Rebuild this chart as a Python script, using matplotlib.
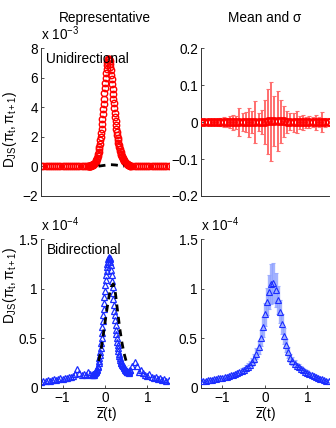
import numpy as np
import matplotlib
matplotlib.use("Agg")
import matplotlib.pyplot as plt

plt.rcParams['font.family'] = ['Liberation Sans', 'DejaVu Sans']
plt.rcParams['mathtext.fontset'] = 'custom'
plt.rcParams['mathtext.rm'] = 'Liberation Sans'
plt.rcParams['mathtext.it'] = 'Liberation Sans:italic'
plt.rcParams['mathtext.bf'] = 'Liberation Sans:bold'
FS = 9.8

# ---------------- data ----------------
# Representative, unidirectional (units 1e-3)
uni_z_left = np.round(np.arange(-1.5, -0.41, 0.05), 3)
uni_v_left = [0.0, 0.01, 0.0, 0.01, 0.0, 0.0, 0.01, 0.0, 0.01, 0.0, 0.01, 0.0,
              0.01, 0.0, 0.01, 0.01, 0.0, 0.01, 0.01, 0.01, 0.02, 0.02]
uni_z_mid = np.round(np.arange(-0.40, 0.605, 0.01), 3)
uni_v_mid = [0.02, 0.025, 0.03, 0.035, 0.04, 0.045, 0.05, 0.06, 0.07, 0.08,
             0.09, 0.105, 0.12, 0.14, 0.16, 0.19, 0.22, 0.26, 0.30, 0.36,
             0.42, 0.5, 0.6, 0.72, 0.85, 1.0, 1.15, 1.35, 1.55, 1.77,
             2.0, 2.27, 2.55, 2.87, 3.2, 3.55, 3.9, 4.25, 4.6, 4.95,
             5.3, 5.65, 6.0, 6.3, 6.6, 6.85, 7.05, 7.2, 7.3, 7.3,
             7.25, 7.12, 6.95, 6.75, 6.5, 6.2, 5.9, 5.58, 5.25, 4.92,
             4.6, 4.27, 3.95, 3.65, 3.35, 3.07, 2.8, 2.57, 2.35, 2.15,
             1.95, 1.77, 1.6, 1.45, 1.3, 1.17, 1.05, 0.95, 0.85, 0.76,
             0.68, 0.61, 0.54, 0.48, 0.43, 0.38, 0.34, 0.30, 0.27, 0.24,
             0.21, 0.18, 0.16, 0.14, 0.12, 0.105, 0.09, 0.08, 0.07, 0.06,
             0.05]
uni_z_right = np.round(np.arange(0.65, 1.501, 0.05), 3)
uni_v_right = [0.04, 0.03, 0.02, 0.02, 0.01, 0.01, 0.01, 0.0, 0.01, 0.0, 0.01,
               0.0, 0.0, 0.01, 0.0, 0.01, 0.0, 0.0]

uni_theory_z = np.round(np.arange(-0.15, 0.455, 0.05), 3)
uni_theory_v = [0.02, 0.04, 0.06, 0.08, 0.10, 0.12, 0.12, 0.11, 0.10, 0.08,
                0.06, 0.04, 0.02]

# Mean and sigma, unidirectional
uni_ms_z = np.round(np.arange(-1.5, 1.501, 0.075), 3)
uni_mean = [0.0, 0.0, 0.0, 0.0, 0.0, 0.0, 0.0, 0.0, 0.0, 0.0, 0.0, 0.0, 0.0,
            0.0, 0.0, 0.0, 0.0, 0.0, 0.0, 0.0, 0.001, 0.002, 0.003, 0.003,
            0.003, 0.002, 0.002, 0.001, 0.001, 0.0, 0.0, 0.0, 0.0, 0.0, 0.0,
            0.0, 0.0, 0.0, 0.0, 0.0, 0.0]
uni_sigma = [0.006, 0.005, 0.007, 0.006, 0.008, 0.007, 0.010, 0.013, 0.012,
             0.016, 0.020, 0.018, 0.037, 0.024, 0.028, 0.039, 0.030, 0.057,
             0.025, 0.032, 0.060, 0.088, 0.107, 0.068, 0.082, 0.059, 0.042,
             0.030, 0.023, 0.026, 0.030, 0.018, 0.020, 0.015, 0.017, 0.014,
             0.020, 0.013, 0.028, 0.012, 0.010]

# Representative, bidirectional (units 1e-4)
bi_z_left = np.round(np.arange(-1.5, -0.34, 0.05), 3)
bi_v_left = [0.06, 0.07, 0.065, 0.075, 0.07, 0.08, 0.085, 0.08, 0.09, 0.095,
             0.09, 0.10, 0.10, 0.11, 0.105, 0.12, 0.14, 0.19, 0.15, 0.13, 0.14,
             0.13, 0.16, 0.14]
bi_z_mid = np.round(np.arange(-0.30, 0.605, 0.01), 3)
bi_v_mid = [0.13, 0.14, 0.14, 0.13, 0.13, 0.14, 0.15, 0.155, 0.16, 0.165,
            0.17, 0.18, 0.19, 0.205, 0.22, 0.245, 0.27, 0.30, 0.33, 0.365,
            0.40, 0.45, 0.50, 0.555, 0.61, 0.67, 0.73, 0.795, 0.86, 0.92,
            0.98, 1.035, 1.09, 1.135, 1.18, 1.215, 1.25, 1.275, 1.30, 1.315,
            1.32, 1.315, 1.30, 1.27, 1.24, 1.19, 1.14, 1.08, 1.02, 0.96,
            0.90, 0.84, 0.78, 0.73, 0.68, 0.63, 0.58, 0.54, 0.50, 0.465,
            0.43, 0.40, 0.37, 0.345, 0.32, 0.30, 0.28, 0.265, 0.25, 0.245,
            0.24, 0.23, 0.22, 0.215, 0.21, 0.205, 0.20, 0.19, 0.18, 0.175,
            0.17, 0.165, 0.16, 0.16, 0.16, 0.155, 0.15, 0.16, 0.17, 0.175,
            0.18]
bi_z_right = np.round(np.arange(0.65, 1.501, 0.05), 3)
bi_v_right = [0.22, 0.26, 0.22, 0.16, 0.18, 0.15, 0.13, 0.12, 0.14, 0.11, 0.10,
              0.11, 0.09, 0.10, 0.08, 0.09, 0.07, 0.08]

bi_theory_z = np.round(np.arange(-0.15, 0.555, 0.05), 3)
bi_theory_v = [0.27, 0.36, 0.50, 0.65, 0.80, 0.93, 1.02, 1.05, 0.95, 0.77,
               0.60, 0.46, 0.35, 0.27, 0.22]

# Mean and sigma, bidirectional (units 1e-4)
bi_ms_z = np.round(np.arange(-1.5, 1.501, 0.05), 3)
bi_mean = [0.065, 0.068, 0.072, 0.075, 0.078, 0.082, 0.086, 0.09, 0.094, 0.098,
           0.103, 0.108, 0.113, 0.118, 0.124, 0.131, 0.14, 0.148, 0.158, 0.17,
           0.183, 0.198, 0.214, 0.234, 0.26, 0.295, 0.345, 0.41, 0.50, 0.61,
           0.74, 0.87, 0.97, 1.05, 1.06, 0.99, 0.89, 0.77, 0.64, 0.52, 0.43,
           0.36, 0.30, 0.27, 0.24, 0.22, 0.205, 0.19, 0.175, 0.163, 0.152,
           0.14, 0.13, 0.12, 0.11, 0.10, 0.092, 0.085, 0.078, 0.072, 0.068]
bi_sigma = [0.010, 0.010, 0.011, 0.011, 0.012, 0.012, 0.013, 0.013, 0.014,
            0.014, 0.015, 0.016, 0.017, 0.018, 0.019, 0.020, 0.021, 0.022,
            0.023, 0.025, 0.027, 0.030, 0.033, 0.037, 0.041, 0.046, 0.055,
            0.065, 0.080, 0.100, 0.120, 0.140, 0.170, 0.200, 0.200, 0.170,
            0.140, 0.120, 0.100, 0.080, 0.065, 0.055, 0.045, 0.040, 0.035,
            0.032, 0.030, 0.028, 0.026, 0.024, 0.022, 0.020, 0.019, 0.018,
            0.016, 0.015, 0.014, 0.013, 0.012, 0.012, 0.011]

x_ticks = [-1, 0, 1]
RED = '#ff0000'
BLUE = '#1a2cff'

# ---------------- figure ----------------
fig = plt.figure(figsize=(3.36, 4.28), dpi=100)
W, H = 336.0, 428.0


def pos(l, t, r, b):
    return [l / W, 1 - b / H, (r - l) / W, (b - t) / H]


ax_tl = fig.add_axes(pos(41.3, 48.3, 168.5, 196))
ax_tr = fig.add_axes(pos(201.3, 48.3, 328.5, 196))
ax_bl = fig.add_axes(pos(41.3, 239.3, 168.5, 387.7))
ax_br = fig.add_axes(pos(201.3, 239.3, 328.5, 387.7))

for ax in (ax_tl, ax_tr, ax_bl, ax_br):
    ax.spines['top'].set_visible(False)
    ax.spines['right'].set_visible(False)
    for s in ('left', 'bottom'):
        ax.spines[s].set_linewidth(0.7)
        ax.spines[s].set_color('#333333')
    ax.tick_params(direction='in', length=2.5, width=0.6, labelsize=FS,
                   pad=2.5, colors='#333333', labelcolor='black')
    ax.set_xlim(-1.5, 1.5)
    ax.set_xticks(x_ticks)

for ax in (ax_tl, ax_tr):
    ax.tick_params(axis='x', length=0, labelbottom=False)
for ax in (ax_bl, ax_br):
    ax.set_xticklabels(['\u22121', '0', '1'])

# top-left
uni_z = np.concatenate([uni_z_left, uni_z_mid, uni_z_right])
uni_v = np.concatenate([uni_v_left, uni_v_mid, uni_v_right])
ax_tl.plot(uni_z, uni_v, 'o', mfc='none', mec=RED, ms=4.6, mew=1.0, zorder=2)
ax_tl.plot(uni_theory_z, uni_theory_v, '--', color='black', lw=2.0,
           dashes=(2.5, 2.0), zorder=3)
ax_tl.set_ylim(-2, 8)
ax_tl.set_yticks([-2, 0, 2, 4, 6, 8])
ax_tl.text(0.04, 0.93, 'Unidirectional', transform=ax_tl.transAxes,
           fontsize=FS, ha='left', va='center')
ax_tl.text(0.0, 1.035, r'x 10$^{\mathrm{-3}}$', transform=ax_tl.transAxes,
           fontsize=FS, ha='left', va='bottom')

# top-right
eb1 = ax_tr.errorbar(uni_ms_z, uni_mean, yerr=uni_sigma, fmt='none',
                     ecolor='#ff6e6e', elinewidth=1.4, capsize=1.6,
                     capthick=0.8, zorder=1)
for cl in eb1[1]:
    cl.set_color('#ff2a2a')
ax_tr.plot(uni_ms_z, uni_mean, 'o', mfc='none', mec=RED, ms=5.0, mew=1.4,
           zorder=3)
ax_tr.set_ylim(-0.2, 0.2)
ax_tr.set_yticks([-0.2, -0.1, 0, 0.1, 0.2])
ax_tr.set_yticklabels(['\u22120.2', '\u22120.1', '0', '0.1', '0.2'])

# bottom-left
bi_z = np.concatenate([bi_z_left, bi_z_mid, bi_z_right])
bi_v = np.concatenate([bi_v_left, bi_v_mid, bi_v_right])
ax_bl.plot(bi_z, bi_v, '^', mfc='none', mec=BLUE, ms=4.6, mew=0.9, zorder=2)
ax_bl.plot(bi_theory_z, bi_theory_v, '--', color='black', lw=2.0,
           dashes=(2.5, 2.0), zorder=3)
ax_bl.set_ylim(0, 1.5)
ax_bl.set_yticks([0, 0.5, 1, 1.5])
ax_bl.set_yticklabels(['0', '0.5', '1', '1.5'])
ax_bl.text(0.04, 0.93, 'Bidirectional', transform=ax_bl.transAxes,
           fontsize=FS, ha='left', va='center')
ax_bl.text(0.0, 1.035, r'x 10$^{\mathrm{-4}}$', transform=ax_bl.transAxes,
           fontsize=FS, ha='left', va='bottom')

# bottom-right
eb = ax_br.errorbar(bi_ms_z, bi_mean, yerr=bi_sigma, fmt='none',
                    ecolor='#8fa2ff', elinewidth=2.4, capsize=1.6,
                    capthick=0.8, alpha=0.8, zorder=1)
for cl in eb[1]:
    cl.set_color(BLUE)
ax_br.plot(bi_ms_z, bi_mean, '^', mfc='none', mec=BLUE, ms=4.2, mew=0.8,
           zorder=3)
ax_br.set_ylim(0, 1.5)
ax_br.set_yticks([0, 0.5, 1, 1.5])
ax_br.set_yticklabels(['0', '0.5', '1', '1.5'])
ax_br.text(0.0, 1.035, r'x 10$^{\mathrm{-4}}$', transform=ax_br.transAxes,
           fontsize=FS, ha='left', va='bottom')

# titles
fig.text(105 / W, 1 - 18 / H, 'Representative', fontsize=FS, ha='center',
         va='center')
fig.text(265 / W, 1 - 18 / H, 'Mean and \u03c3', fontsize=FS, ha='center',
         va='center')

# y labels
ylab = r'$\mathrm{D_{JS}(\pi_t,\pi_{t+1})}$'
fig.text(10 / W, 1 - 129 / H, ylab, fontsize=FS, rotation=90, ha='center',
         va='center')
fig.text(10 / W, 1 - 285 / H, ylab, fontsize=FS, rotation=90, ha='center',
         va='center')

# x labels
xlab = r'$\overline{\mathrm{z}}\mathrm{(t)}$'
fig.text(106 / W, 1 - 415 / H, xlab, fontsize=FS, ha='center', va='center')
fig.text(265 / W, 1 - 415 / H, xlab, fontsize=FS, ha='center', va='center')

fig.savefig('out.png', dpi=100)
